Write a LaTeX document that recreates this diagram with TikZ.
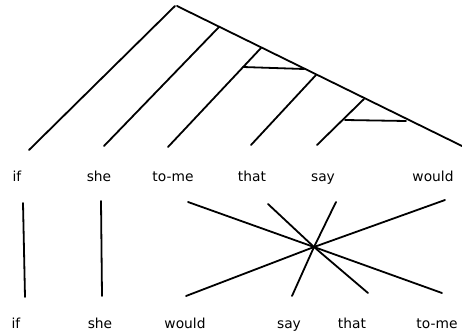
\documentclass[tikz,border=0pt]{standalone}
\usepackage{fontspec}
\setmainfont{DejaVu Sans}
\usetikzlibrary{positioning}
\begin{document}
\begin{tikzpicture}[x=1pt,y=-1pt,line width=1.8pt,line cap=round,
  word/.style={font=\fontsize{13.8}{16}\selectfont,inner sep=0pt,anchor=base}]
\useasboundingbox (0,0) rectangle (462,334);
% words, original order
\node[word] (tif) at (17,181) {if};
\node[word] (tshe) at (99,181) {she};
\node[word] (ttome) at (173,181) {to-me};
\node[word] (tthat) at (252,181) {that};
\node[word] (tsay) at (323,181) {say};
\node[word] (twould) at (433,181) {would};
% words, reordered
\node[word] (bif) at (16,328) {if};
\node[word] (bshe) at (100,328) {she};
\node[word] (bwould) at (185,328) {would};
\node[word] (bsay) at (289,328) {say};
\node[word] (bthat) at (352,328) {that};
\node[word] (btome) at (437,328) {to-me};
% tree
\coordinate (topl) at (175,6);
\coordinate (topr) at (177,6);
\coordinate (n1) at (219,27);
\coordinate (n2) at (261,48);
\coordinate (n3) at (316,75);
\coordinate (n4) at (364,99);
\coordinate (m1) at (243,67);
\coordinate (m2) at (304,69);
\coordinate (m3) at (345,120);
\coordinate (m4) at (406,121);
\coordinate (lif) at (29,150);
\coordinate (lshe) at (104,146);
\coordinate (ltome) at (168,147);
\coordinate (lthat) at (251,145);
\coordinate (lsay) at (317,145);
\coordinate (lwould) at (462,146);
\draw (topl) -- (lif);
\draw (topr) -- (lwould);
\draw (n1) -- (lshe);
\draw (n2) -- (ltome);
\draw (n3) -- (lthat);
\draw (n4) -- (lsay);
\draw (m1) -- (m2);
\draw (m3) -- (m4);
% links between the two orders
\coordinate (x) at (314,247);
\coordinate (uif) at (23,203);
\coordinate (ushe) at (101,201);
\coordinate (utome) at (188,202);
\coordinate (uthat) at (268,204);
\coordinate (usay) at (336,202);
\coordinate (uwould) at (445,200);
\coordinate (dif) at (25,297);
\coordinate (dshe) at (102,296);
\coordinate (dwould) at (186,296);
\coordinate (dsay) at (292,296);
\coordinate (dthat) at (368,293);
\coordinate (dtome) at (442,293);
\draw (uif) -- (dif);
\draw (ushe) -- (dshe);
\draw (utome) -- (x) -- (dtome);
\draw (uthat) -- (x) -- (dthat);
\draw (usay) -- (x) -- (dsay);
\draw (uwould) -- (x) -- (dwould);
\end{tikzpicture}
\end{document}
